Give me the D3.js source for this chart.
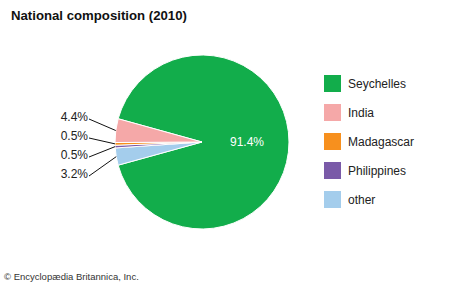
<!DOCTYPE html>
<meta charset="utf-8">
<style>
body { margin: 0; background: #fff; }
text { font-family: "Liberation Sans", Arial, sans-serif; }
</style>
<head>
  <script src="https://d3js.org/d3.v7.min.js"></script>
</head>
<svg width="474" height="284"></svg>
<script>

// pie data, in clockwise drawing order
var countries = ["Seychelles", "other", "Philippines", "Madagascar", "India"];
var shares = [91.4, 3.2, 0.5, 0.5, 4.4];
var colors = ["#12ad4b", "#a4cdec", "#7a5aa8", "#f7901e", "#f5a8a8"];

// legend order
var legendNames = ["Seychelles", "India", "Madagascar", "Philippines", "other"];

// outside labels, top to bottom
var outsideNames = ["India", "Madagascar", "Philippines", "other"];
var outsideY = [121, 140, 159, 178];

var svg = d3.select("svg");

svg.append("text")
    .attr("x", 11)
    .attr("y", 20)
    .attr("font-size", 13.2)
    .attr("font-weight", "bold")
    .attr("fill", "#111")
    .text("National composition (2010)");

var cx = 202, cy = 142, r = 87;
var start = -74.5 * Math.PI / 180;

var color = d3.scaleOrdinal().domain(countries).range(colors);

var pie = d3.pie()
    .sort(null)
    .value(function(d, i) { return shares[i]; })
    .startAngle(start)
    .endAngle(start + 2 * Math.PI);

var arcs = pie(countries);
var arc = d3.arc().innerRadius(0).outerRadius(r);

var g = svg.append("g")
    .attr("transform", "translate(" + cx + "," + cy + ")");

g.selectAll("path")
  .data(arcs)
  .enter().append("path")
    .attr("d", arc)
    .attr("fill", function(d) { return color(d.data); })
    .attr("stroke", "#fff")
    .attr("stroke-width", 1);

// big slice label
g.append("text")
    .attr("x", 45)
    .attr("y", 4)
    .attr("text-anchor", "middle")
    .attr("font-size", 12)
    .attr("fill", "#fff")
    .text(shares[0].toFixed(1) + "%");

// small slice labels with leader lines
outsideNames.forEach(function(name, j) {
  var a = arcs.filter(function(d) { return d.data === name; })[0];
  var mid = (a.startAngle + a.endAngle) / 2;
  var px = Math.sin(mid) * r, py = -Math.cos(mid) * r;
  var ly = outsideY[j] - cy - 4;
  g.append("line")
      .attr("x1", 89 - cx).attr("y1", ly + 2)
      .attr("x2", px).attr("y2", py)
      .attr("stroke", "#111")
      .attr("stroke-width", 1);
  g.append("text")
      .attr("x", 88 - cx)
      .attr("y", outsideY[j] - cy)
      .attr("text-anchor", "end")
      .attr("font-size", 12)
      .attr("fill", "#222")
      .text(a.value.toFixed(1) + "%");
});

// legend
var legend = svg.append("g")
    .attr("transform", "translate(324,75)");

var item = legend.selectAll("g")
  .data(legendNames)
  .enter().append("g")
    .attr("transform", function(d, i) { return "translate(0," + (i * 29) + ")"; });

item.append("rect")
    .attr("width", 17)
    .attr("height", 17)
    .attr("fill", function(d) { return color(d); });

item.append("text")
    .attr("x", 24)
    .attr("y", 13)
    .attr("font-size", 12)
    .attr("fill", "#222")
    .text(function(d) { return d; });

svg.append("text")
    .attr("x", 4)
    .attr("y", 280)
    .attr("font-size", 9.5)
    .attr("fill", "#333")
    .text("\u00a9 Encyclop\u00e6dia Britannica, Inc.");

</script>
